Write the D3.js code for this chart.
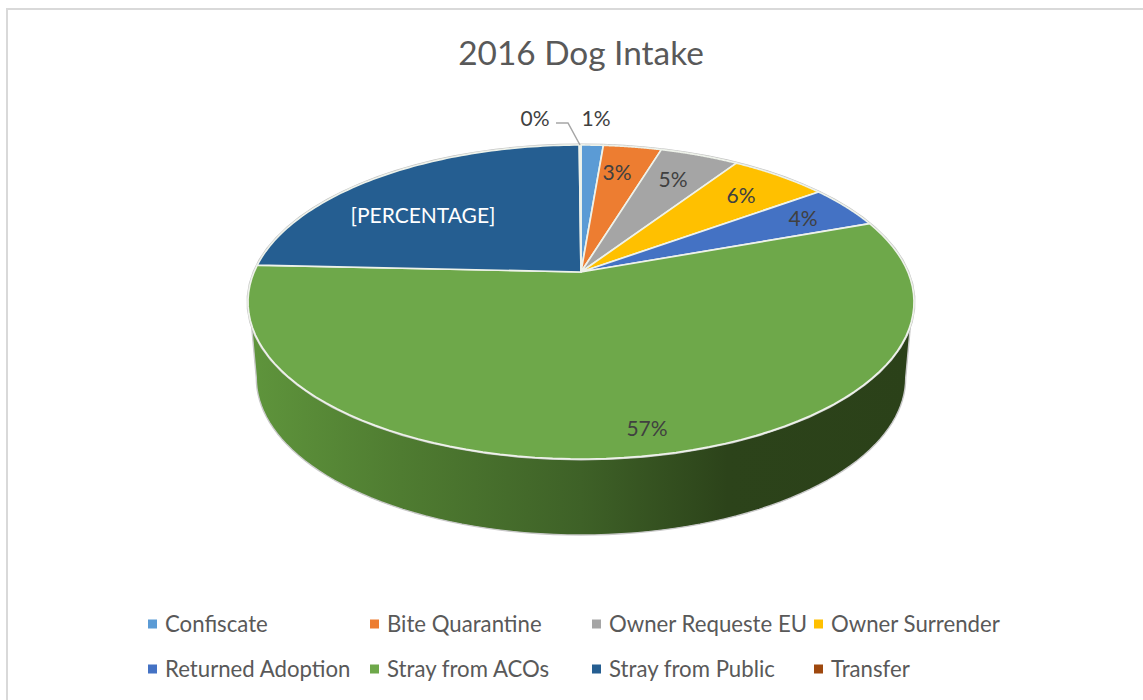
<!DOCTYPE html>
<html><head><meta charset="utf-8">
<script src="https://cdn.jsdelivr.net/npm/d3@7"></script>
<style>html,body{margin:0;padding:0;background:#fff;overflow:hidden}svg{display:block}text{font-family:Lato,"Open Sans",sans-serif}</style>
</head><body><svg id="c" width="1143" height="700"></svg>
<script>
const categories=["Confiscate","Bite Quarantine","Owner Requeste EU","Owner Surrender","Returned Adoption","Stray from ACOs","Stray from Public","Transfer"];
const values=[1.3,3.4,4.6,5.7,4.5,56.3,24.2,0.1];
const labels=["1%","3%","5%","6%","4%","57%","[PERCENTAGE]","0%"];
const colors=["#5b9bd5","#ed7d31","#a5a5a5","#ffc000","#4472c4","#6ea84a","#255e91","#9e480e"];
const title="2016 Dog Intake";

const svg=d3.select("#c");
const cx=581,cy=272,k=0.191,a=326.9,b=151.3,depth=76;
const proj=(th,d=0)=>{const u=Math.sin(th),v=-Math.cos(th),w=1-k*v;
  return [cx+a*u/w*(d?0.975:1),cy+b*v/w+d];};
const pie=d3.pie().sort(null).value(d=>d)(values);
const line=d3.line();
const samp=(t0,t1,d)=>d3.range(0,81).map(i=>proj(t0+(t1-t0)*i/80,d));

const defs=svg.append("defs");
const grad=defs.append("linearGradient").attr("id","wall").attr("gradientUnits","userSpaceOnUse")
  .attr("x1",248).attr("x2",914).attr("y1",0).attr("y2",0);
[[0,"#5f953c"],[0.23,"#4f7c31"],[0.5,"#3e6127"],[0.72,"#2c431a"],[1,"#2b4119"]].forEach(s=>grad.append("stop").attr("offset",s[0]).attr("stop-color",s[1]));

svg.append("rect").attr("x",7).attr("y",9).attr("width",1250).attr("height",800).attr("fill","#fff").attr("stroke","#d9d9d9").attr("stroke-width",2);

svg.append("text").attr("x",581).attr("y",65).attr("text-anchor","middle").attr("font-size",33.4).attr("fill","#595959").text(title);

// side wall: straight edges run from the rim down to the tangents of the base
const wall=[...samp(Math.PI*0.606,Math.PI*1.394,0),...samp(Math.PI*1.439,Math.PI*0.561,depth)];
svg.append("path").attr("d",line(wall)+"Z").attr("fill","url(#wall)").attr("stroke","#c9c9c9").attr("stroke-width",1.4).attr("stroke-linejoin","round");

// grey rim behind the top face
svg.append("path").attr("d",line(samp(0,2*Math.PI,0))+"Z").attr("fill","none").attr("stroke","#c4c4c4").attr("stroke-width",3);

// top slices
svg.selectAll("path.slice").data(pie).join("path").attr("class","slice")
 .attr("d",d=>line([[cx,cy],...samp(d.startAngle,d.endAngle,0)])+"Z")
 .attr("fill",(d,i)=>colors[i]).attr("stroke","#eef2ea").attr("stroke-width",1.7).attr("stroke-linejoin","round");

// data labels
const labelPos=[[596,119],[617,173],[673,180],[741,196],[803,219],[647,429],[423,216],[535,119]];
svg.selectAll("text.lab").data(labels).join("text").attr("class","lab")
 .attr("x",(d,i)=>labelPos[i][0]).attr("y",(d,i)=>labelPos[i][1]+7)
 .attr("text-anchor","middle").attr("font-size",21).attr("fill",(d,i)=>i==6?"#fff":"#404040").text(d=>d);
svg.append("path").attr("d",line([[556,123],[568,123],[580,145]])).attr("fill","none").attr("stroke","#a6a6a6").attr("stroke-width",1.5);

// legend
const legendX=[148,370,592,814],legendY=[624,669];
const lg=svg.selectAll("g.lg").data(categories).join("g").attr("class","lg")
  .attr("transform",(d,i)=>`translate(${legendX[i%4]},${legendY[i<4?0:1]})`);
lg.append("rect").attr("x",0).attr("y",-4.5).attr("width",9).attr("height",9).attr("fill",(d,i)=>colors[i]);
lg.append("text").attr("x",17).attr("y",8).attr("font-size",22.2).attr("fill","#595959").text(d=>d);
</script></body></html>
